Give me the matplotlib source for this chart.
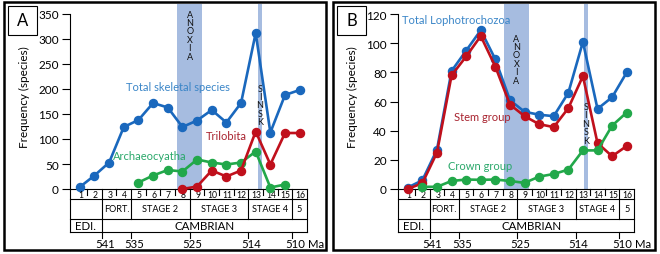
import matplotlib
matplotlib.use("Agg")
import matplotlib.pyplot as plt
import matplotlib.transforms as mtransforms
from matplotlib.patches import Rectangle

plt.rcParams["font.family"] = ["Lato", "DejaVu Sans"]

# ---------------------------------------------------------------
# data
# ---------------------------------------------------------------
stages = list(range(1, 17))

# panel A
total_skeletal = [4, 27, 53, 124, 138, 172, 163, 124, 137, 158, 133, 172, 312, 113, 188, 198]
trilo_stages = list(range(8, 17))
trilobita = [0, 5, 37, 25, 37, 115, 49, 112, 112]
archaeo_stages = list(range(5, 16))
archaeocyatha = [13, 27, 38, 35, 59, 53, 49, 53, 75, 3, 9]

# panel B
total_lopho = [1, 6, 27, 81, 95, 109, 89, 61, 53, 51, 50, 66, 101, 55, 63, 80]
stem_group = [0, 4, 25, 78, 91, 105, 84, 58, 50, 44.5, 42.5, 55.5, 77.5, 31.5, 22.5, 29.5]
crown_stages = list(range(2, 17))
crown_group = [1.5, 1.5, 5.5, 6.5, 6.3, 6.5, 5.5, 4.2, 8.5, 10.3, 13.3, 26.5, 26.5, 43.5, 52.5]

stage_names = ["FORT.", "STAGE 2", "STAGE 3", "STAGE 4", "5"]
stage_spans = [(2.5, 4.5), (4.5, 8.5), (8.5, 12.5), (12.5, 15.5), (15.5, 16.5)]
ma_ticks = [2.5, 4.5, 8.5, 12.5, 15.5]
ma_labels = ["541", "535", "525", "514", "510"]

BLUE = "#1a68bd"
RED = "#c0101c"
GREEN = "#22a84a"
BAND = "#a6bce0"

W, H = 660, 255
X0, X1 = 0.33, 16.5
AX_H = 185.0  # axes height in px


def px(v):
    # pixel offset below the axis, in axes fraction
    return -v / AX_H


def draw_table(ax):
    tr = mtransforms.blended_transform_factory(ax.transData, ax.transAxes)
    kw = dict(color="black", lw=0.8, transform=tr, clip_on=False)
    r0, r1, r2, r3 = 0, px(10), px(30), px(43)
    tb = px(49)
    for r in (r1, r2, r3):
        ax.plot([X0, X1], [r, r], **kw)
    ax.plot([X0, X0], [r0, r3], **kw)
    ax.plot([X1, X1], [r0, r3], **kw)
    for b in (4.5, 8.5, 12.5, 15.5):
        ax.plot([b, b], [r0, r2], **kw)
        ax.plot([b, b], [r3, tb], **kw)
    ax.plot([2.5, 2.5], [r0, tb], **kw)
    for b in (1.5, 3.5, 5.5, 6.5, 7.5, 9.5, 10.5, 11.5, 13.5, 14.5):
        ax.plot([b, b], [r0, px(6)], **kw)
    for s in stages:
        ax.text(s + 0.05, (r0 + r1) / 2 - 0.003, str(s), transform=tr, ha="center",
                va="center", fontsize=6.2)
    for name, (a, b) in zip(stage_names, stage_spans):
        ax.text((a + b) / 2, (r1 + r2) / 2, name, transform=tr, ha="center",
                va="center", fontsize=6.6)
    ax.text((X0 + 2.5) / 2, (r2 + r3) / 2, "EDI.", transform=tr, ha="center",
            va="center", fontsize=8.3)
    ax.text((2.5 + X1) / 2, (r2 + r3) / 2, "CAMBRIAN", transform=tr, ha="center",
            va="center", fontsize=8.3)
    for t, lab in zip(ma_ticks, ma_labels):
        ax.text(t + 0.2, px(55), lab, transform=tr, ha="center", va="center", fontsize=8.2)
    ax.text(16.6, px(55), "Ma", transform=tr, ha="left", va="center", fontsize=8.2)


def style_axis(ax, ymax, top, step):
    ax.set_xlim(X0, X1)
    ax.set_ylim(0, top)
    ax.set_xticks([])
    ax.set_yticks(range(0, ymax + 1, step))
    ax.tick_params(axis="y", length=6, width=0.8, pad=2, labelsize=8.5)
    ax.spines["top"].set_visible(False)
    ax.spines["right"].set_visible(False)
    ax.spines["left"].set_bounds(0, ymax)
    ax.spines["left"].set_linewidth(0.8)
    ax.spines["bottom"].set_linewidth(0.8)
    ax.set_ylabel("Frequency (species)", fontsize=8.5, labelpad=6)
    ax.patch.set_alpha(0)


def stacked(ax, word, x, ytop):
    ax.text(x, ytop, "\n".join(word), transform=mtransforms.blended_transform_factory(
        ax.transData, ax.transAxes), ha="center", va="top", fontsize=6.5,
        linespacing=0.92, color="#111111")


def series(ax, xs, ys, color, z):
    ax.plot(xs, ys, color=color, lw=1.9, marker="o", ms=5.8, zorder=z, clip_on=False)


fig = plt.figure(figsize=(W / 100, H / 100), dpi=100)

axA = fig.add_axes([70 / W, (H - 190) / H, (307 - 70) / W, AX_H / H])
axB = fig.add_axes([398 / W, (H - 190) / H, (634 - 398) / W, AX_H / H])

# ---- panel A
style_axis(axA, 350, 370, 50)
axA.axvspan(7.62, 9.33, color=BAND, lw=0, zorder=0)
axA.axvspan(13.15, 13.42, color=BAND, lw=0, zorder=0)
stacked(axA, "ANOXIA", 8.5, 0.97)
stacked(axA, "SINSK", 13.3, 0.57)
series(axA, stages, total_skeletal, BLUE, 3)
series(axA, archaeo_stages, archaeocyatha, GREEN, 4)
series(axA, trilo_stages, trilobita, RED, 5)
axA.text(7.67, 204, "Total skeletal species", color="#3b86c8", fontsize=8,
         ha="center", va="center")
axA.text(11.0, 106, "Trilobita", color="#a8222e", fontsize=8, ha="center", va="center")
axA.text(5.8, 66, "Archaeocyatha", color="#2aa86a", fontsize=8, ha="center", va="center")
draw_table(axA)

# ---- panel B
style_axis(axB, 120, 127, 20)
axB.axvspan(7.58, 9.3, color=BAND, lw=0, zorder=0)
axB.axvspan(13.08, 13.35, color=BAND, lw=0, zorder=0)
stacked(axB, "ANOXIA", 8.45, 0.84)
stacked(axB, "SINSK", 13.2, 0.47)
series(axB, stages, total_lopho, BLUE, 3)
series(axB, stages, stem_group, RED, 4)
series(axB, crown_stages, crown_group, GREEN, 5)
axB.text(0.62, 116.5, "Total Lophotrochozoa", color="#3b86c8", fontsize=8,
         ha="left", va="center")
axB.text(6.1, 49.5, "Stem group", color="#a8222e", fontsize=8, ha="center", va="center")
axB.text(5.95, 16, "Crown group", color="#2aa86a", fontsize=8, ha="center", va="center")
draw_table(axB)

# panel frames and letter boxes
for (x0, x1), letter in zip([(4, 326), (333, 655)], ["A", "B"]):
    fig.add_artist(Rectangle((x0 / W, 4 / H), (x1 - x0) / W, 248 / H, fill=False,
                             lw=1.8, ec="black", transform=fig.transFigure))
    bx = x0 + 4
    fig.add_artist(Rectangle((bx / W, (H - 36) / H), 29 / W, 29 / H, fill=True,
                             fc="white", lw=0.8, ec="black", transform=fig.transFigure))
    fig.text((bx + 14.5) / W, (H - 21.5) / H, letter, fontsize=12, ha="center",
             va="center")

fig.savefig("out.png", dpi=100)
